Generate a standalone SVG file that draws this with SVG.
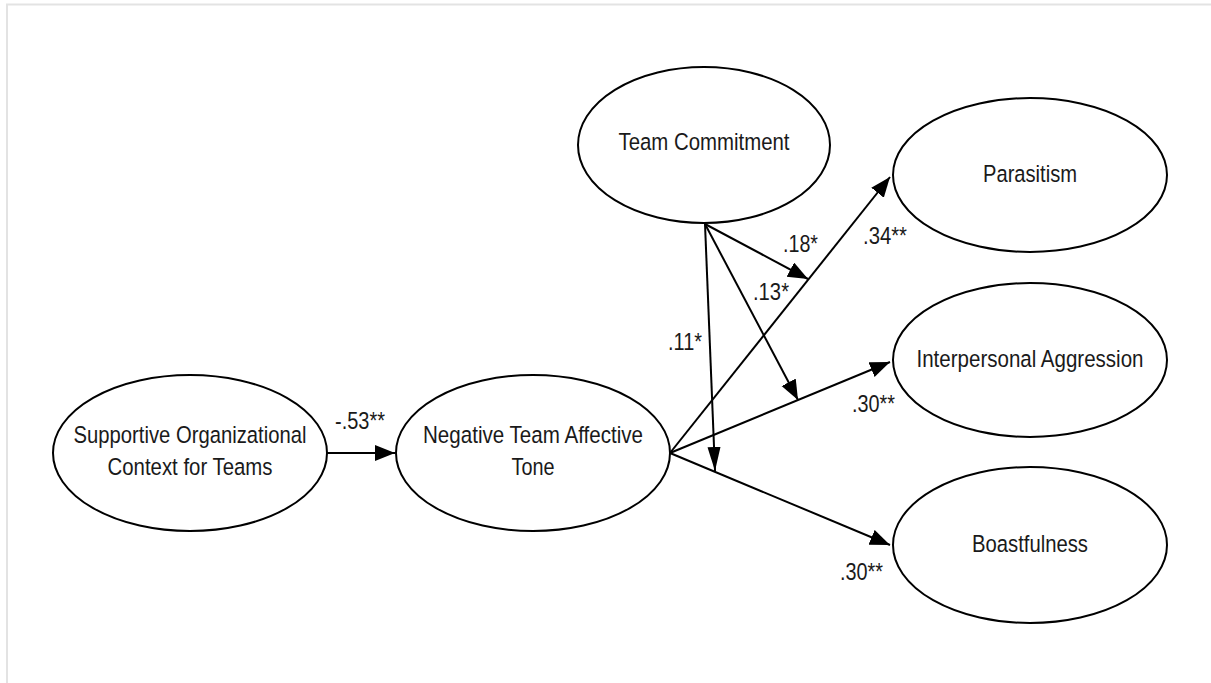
<svg xmlns="http://www.w3.org/2000/svg" width="1211" height="683" viewBox="0 0 1211 683">
<style>
  .node ellipse { fill: #ffffff; stroke: #000000; stroke-width: 2; }
  text { font-family: 'Liberation Sans Narrow', 'Liberation Sans', Arial, sans-serif; font-size: 24.5px; fill: #1a1a1a; }
  .c { text-anchor: middle; }
  .edge { stroke: #000000; stroke-width: 2; fill: none; marker-end: url(#arrow); }
  .edge.thin { marker-end: url(#arrow-thin); }
</style>
<defs>
  <marker id="arrow" markerUnits="userSpaceOnUse" markerWidth="22" markerHeight="18" refX="20" refY="8" orient="auto">
    <path d="M0,0 L20,8 L0,16 z" fill="#000000"/>
  </marker>
  <marker id="arrow-thin" markerUnits="userSpaceOnUse" markerWidth="26" markerHeight="14" refX="24" refY="6.5" orient="auto">
    <path d="M0,0 L24,6.5 L0,13 z" fill="#000000"/>
  </marker>
</defs>
<rect x="0" y="0" width="1211" height="683" fill="#ffffff"/>
<path d="M7,683 V4.5 H1211" fill="none" stroke="#e3e3e3" stroke-width="2"/>

<g id="connectors">
  <line class="edge" x1="327" y1="453" x2="395" y2="453"/>
  <line class="edge" x1="670" y1="453" x2="890" y2="177"/>
  <line class="edge" x1="670" y1="453" x2="890" y2="362"/>
  <line class="edge" x1="670" y1="453" x2="890" y2="545"/>
  <line class="edge" x1="705" y1="224" x2="808" y2="279"/>
  <line class="edge" x1="705" y1="224" x2="798" y2="400"/>
  <line class="edge thin" x1="705" y1="224" x2="715" y2="471"/>
  <text x="335" y="429" textLength="50" lengthAdjust="spacingAndGlyphs">-.53**</text>
  <text x="863" y="244" textLength="44" lengthAdjust="spacingAndGlyphs">.34**</text>
  <text x="852" y="412" textLength="43" lengthAdjust="spacingAndGlyphs">.30**</text>
  <text x="840" y="580" textLength="43" lengthAdjust="spacingAndGlyphs">.30**</text>
  <text x="783" y="252" textLength="35" lengthAdjust="spacingAndGlyphs">.18*</text>
  <text x="753" y="300" textLength="36" lengthAdjust="spacingAndGlyphs">.13*</text>
  <text x="668" y="350" textLength="34" lengthAdjust="spacingAndGlyphs">.11*</text>
</g>

<g id="supportive" class="node">
  <ellipse cx="190" cy="453" rx="137" ry="78"/>
  <text class="c" x="190" y="443" textLength="233" lengthAdjust="spacingAndGlyphs">Supportive Organizational</text>
  <text class="c" x="190" y="475" textLength="165" lengthAdjust="spacingAndGlyphs">Context for Teams</text>
</g>
<g id="negative" class="node">
  <ellipse cx="533" cy="453" rx="137" ry="78"/>
  <text class="c" x="533" y="443" textLength="220" lengthAdjust="spacingAndGlyphs">Negative Team Affective</text>
  <text class="c" x="533" y="475" textLength="43" lengthAdjust="spacingAndGlyphs">Tone</text>
</g>
<g id="commitment" class="node">
  <ellipse cx="704" cy="145" rx="126" ry="78"/>
  <text class="c" x="704" y="150" textLength="171" lengthAdjust="spacingAndGlyphs">Team Commitment</text>
</g>
<g id="parasitism" class="node">
  <ellipse cx="1030" cy="175" rx="137" ry="77"/>
  <text class="c" x="1030" y="182" textLength="94" lengthAdjust="spacingAndGlyphs">Parasitism</text>
</g>
<g id="aggression" class="node">
  <ellipse cx="1030" cy="360" rx="137" ry="77"/>
  <text class="c" x="1030" y="367" textLength="227" lengthAdjust="spacingAndGlyphs">Interpersonal Aggression</text>
</g>
<g id="boastfulness" class="node">
  <ellipse cx="1030" cy="545" rx="137" ry="78"/>
  <text class="c" x="1030" y="552" textLength="116" lengthAdjust="spacingAndGlyphs">Boastfulness</text>
</g>
</svg>
